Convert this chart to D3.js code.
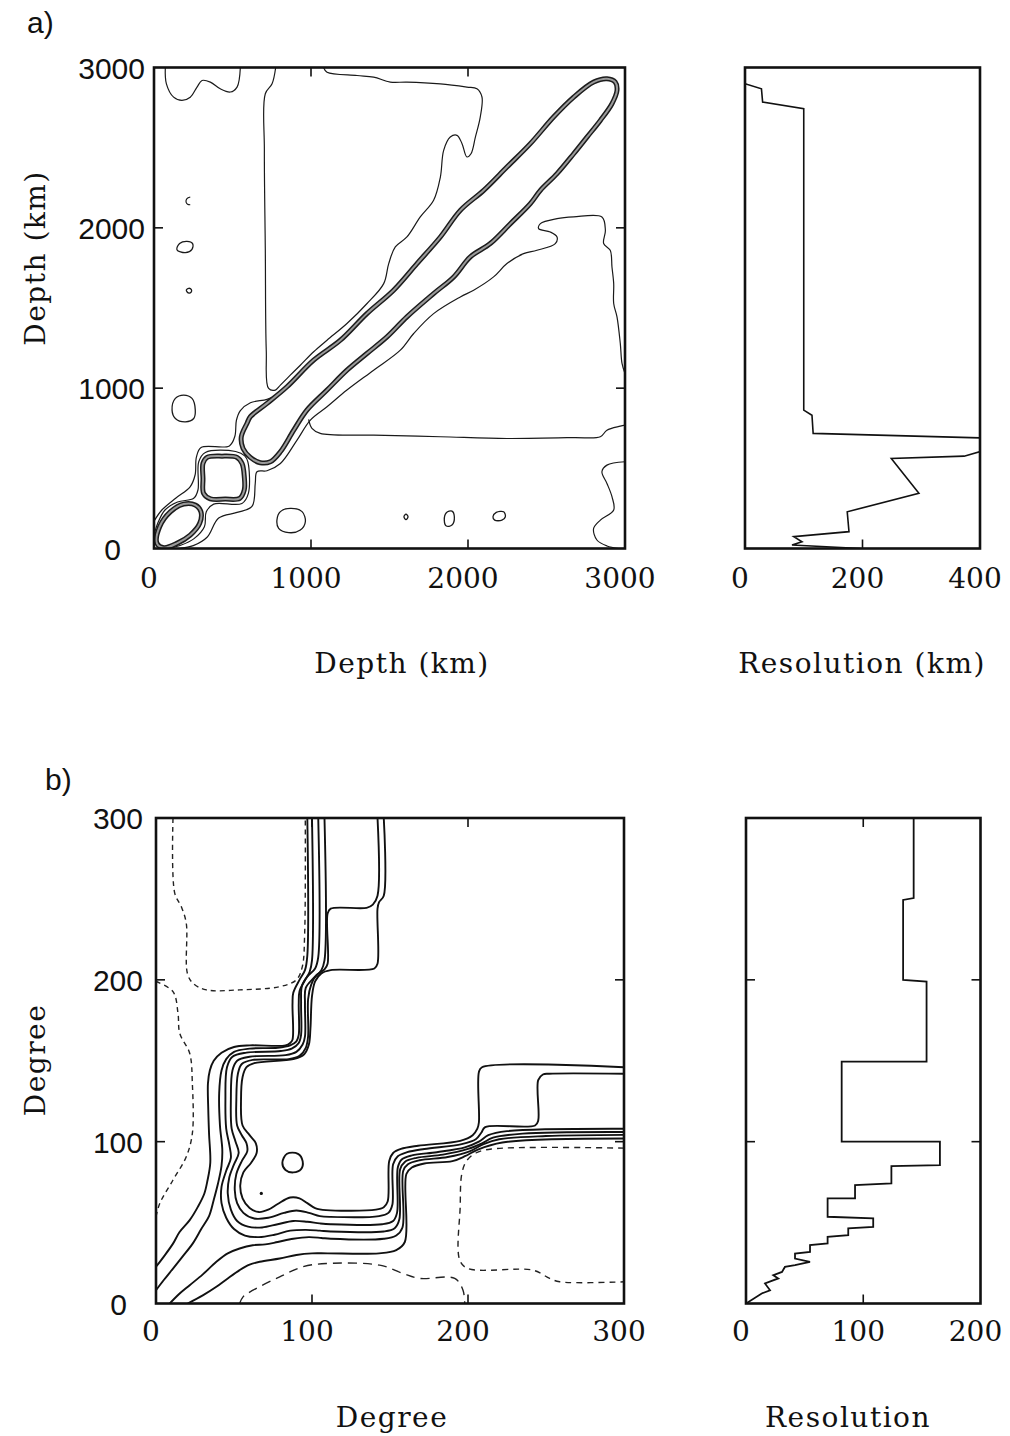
<!DOCTYPE html>
<html>
<head>
<meta charset="utf-8">
<script src="https://cdn.jsdelivr.net/npm/d3@7"></script>
<style>
  body { margin: 0; background: #fff; }
  svg { display: block; }
</style>
</head>
<body>
<svg id="fig" width="1010" height="1436"></svg>
<script>
// ---------- Panel a: depth resolution kernels (km) ----------
const depthTicks = [0, 1000, 2000, 3000];
const resKmTicks = [0, 200, 400];

// thick kernel outline along the diagonal [x km, y km]
const aBand = [[592,780],[614,822],[720,905],[847,1009],[1017,1175],[1187,1299],[1356,1465],[1526,1611],[1675,1777],[1824,1943],[1951,2109],[2100,2234],[2248,2379],[2397,2525],[2545,2691],[2673,2815],[2800,2909],[2885,2930],[2938,2909],[2949,2857],[2917,2774],[2843,2670],[2758,2566],[2673,2462],[2567,2338],[2461,2234],[2397,2151],[2270,2026],[2142,1902],[2015,1819],[1909,1694],[1781,1590],[1611,1445],[1484,1320],[1356,1216],[1229,1112],[1102,988],[974,863],[890,738],[805,603],[741,541],[677,535],[614,568],[567,624],[556,697]];
const aSquareUpper = [[338,568],[433,576],[529,568],[561,530],[575,448],[575,365],[546,313],[454,308],[359,310],[316,344],[312,437],[312,531]];
const aSquareLower = [[19,32],[36,136],[104,229],[189,277],[263,271],[299,229],[291,157],[231,84],[146,32],[62,5]];

// thin contour lines (open, end on the frame)
const aTopLeft = [[72,3000],[79,2898],[125,2815],[178,2795],[231,2815],[274,2878],[306,2919],[359,2909],[422,2867],[486,2847],[529,2878],[550,3000]];
const aUpperWedge = [[775,3000],[752,2898],[709,2836],[703,2483],[709,1860],[715,1237],[730,998],[773,988],[805,1019],[868,1081],[932,1143],[1017,1227],[1102,1299],[1229,1403],[1357,1528],[1463,1652],[1495,1777],[1537,1881],[1611,1943],[1696,2068],[1781,2172],[1824,2317],[1845,2483],[1887,2566],[1930,2577],[1962,2525],[1993,2442],[2019,2462],[2047,2566],[2078,2691],[2089,2816],[2057,2868],[1993,2878],[1824,2898],[1611,2909],[1505,2909],[1399,2940],[1293,2950],[1102,2971],[1080,3000]];
const aLowerWedge = [[160,0],[250,18],[338,70],[412,190],[529,225],[624,262],[645,406],[656,479],[720,485],[805,530],[911,676],[996,801],[1102,884],[1229,988],[1399,1112],[1569,1237],[1654,1341],[1781,1465],[1951,1569],[2036,1611],[2163,1694],[2248,1777],[2354,1839],[2439,1860],[2556,1902],[2567,1943],[2524,1974],[2450,1995],[2461,2026],[2567,2057],[2673,2068],[2853,2068],[2875,1985],[2864,1902],[2906,1860],[2917,1756],[2928,1652],[2928,1528],[2949,1445],[2970,1279],[2981,1154],[3000,1091]];
const aShelf = [[985,805],[1006,749],[1059,718],[1399,707],[1824,697],[2248,686],[2673,692],[2843,697],[2885,738],[2970,763],[3000,770]];
const aAroundSquares = [[0,84],[25,160],[70,240],[150,290],[253,313],[280,365],[285,541],[327,599],[520,605],[578,578],[598,540],[601,344],[560,281],[380,277],[333,229],[321,136],[253,60],[170,20],[90,0]];
const aOuterUpper = [[0,170],[50,240],[140,315],[230,385],[262,460],[270,570],[300,630],[480,640],[515,700],[525,800],[550,860],[614,909],[720,930],[783,957],[826,983]];
const aCornerRight = [[3000,541],[2885,520],[2853,479],[2885,406],[2917,323],[2928,240],[2843,177],[2800,125],[2821,53],[2885,16],[2960,0]];
const aArc = [[231,2192],[210,2182],[204,2161],[214,2147],[231,2144]];
// small closed islands
const aIslands = [
  [[146,1864],[163,1902],[210,1916],[246,1902],[242,1866],[200,1845]],
  [[206,1611],[221,1623],[238,1615],[236,1598],[219,1594]],
  [[115,863],[136,936],[189,957],[242,936],[263,863],[253,811],[200,790],[136,811]],
  [[783,178],[805,230],[868,250],[943,230],[964,167],[932,115],[858,99],[794,126]],
  [[1592,198],[1605,215],[1618,198],[1605,180]],
  [[1849,177],[1862,223],[1898,233],[1913,198],[1898,146],[1862,140]],
  [[2159,198],[2180,225],[2227,229],[2238,198],[2216,177],[2170,177]]
];

// resolution length vs depth (km); values past 400 run off the frame
const resA_depth = [2899, 2867, 2784, 2743, 863, 831, 718, 684, 668, 576, 562, 344, 229, 105, 74, 42, 22, 0];
const resA_km    = [0,    28,   30,   100,  100, 114, 116, 460, 460, 373, 249, 296, 174, 177, 83, 97, 80, 197];

// ---------- Panel b: spherical-harmonic degree kernels ----------
const degTicks = [0, 100, 200, 300];
const resDegTicks = [0, 100, 200];

const bSolid = [
  // innermost stepped contour
  [[146,300],[146,252],[143,248],[142,244],[142,210],[140,207],[112,206],[106,204],[102,199],[100,190],[99,170],[98,160],[95,154],[88,151],[63,148.5],[58,146],[55.5,140],[54.5,126],[55.5,110],[60,104],[64,99],[64.5,93],[61,87],[56,81],[54,73],[55.5,65],[60,59],[66,56.5],[72,58],[78,61.5],[86,65.5],[92,65],[97,62],[102,59],[109,57.7],[141,58],[146,59.5],[148.5,63],[149.5,88],[152,93],[157,95.5],[168,97.5],[195,100.5],[203,104],[206,108],[207,112],[207,143],[209,146],[300,146]],
  [[142,300],[142,252],[139,246.5],[135,244.5],[112,244],[110,241],[110,210],[108,206.5],[103,203],[99.5,197],[97.5,188],[97.5,165],[96,158],[92,153],[85,151],[62,150.5],[55,148],[52.5,142],[51.5,126],[52,110],[55,104],[58,99],[58.5,94],[55,88],[51.5,80],[50.5,70],[52,62],[56,56],[63,52.5],[72,53],[82,56],[90,57.5],[98,56],[105,54],[112,53.5],[143,54],[149,56],[151.5,61],[152,86],[155,91],[161,93.5],[172,95.5],[196,98.5],[205,101.5],[208.5,105.5],[211,109],[243,110],[245,113],[245,138],[248,141.5],[252,142],[300,142]],
  [[108,300],[108,212],[106,206],[101,201],[96,195],[95.5,185],[95.5,165],[94,160],[90,155.5],[83,153.5],[60,152.5],[52,150],[49,144],[48,126],[48.5,108],[51,100],[53,93],[50,86],[47,78],[46,68],[48,58],[52,51],[59,47.5],[68,47],[78,49],[88,51],[97,50.5],[105,49.5],[112,49],[145,49],[152,51],[154.5,56],[155,84],[157.5,89],[164,91.5],[180,93.5],[198,96.5],[207,100],[213,104],[225,106.5],[300,108]],
  [[104,300],[104,214],[102,207],[97,202],[93.5,196],[93,185],[93,166],[91.5,161],[87,157.5],[80,156],[58,155],[49,152.5],[45.5,146],[44.5,126],[45,108],[47,98],[48,90],[45,82],[42,72],[42,62],[45,53],[50,46],[57,42],[66,41],[76,42.5],[86,45],[96,45.5],[105,45],[112,44.5],[146,44.5],[153,46.5],[156,52],[156.5,83],[159.5,87.5],[167,90],[184,92],[200,95.5],[209,99],[216,102.5],[235,105],[300,106]],
  // outer contours cut by the left / bottom edges
  [[100,300],[100,212],[98.5,205],[95,199],[92,193],[91.5,185],[91.5,166],[90,162],[86,159.5],[78,158],[60,157.5],[50,155.5],[45,151],[42,144],[40.5,130],[41,110],[42.5,95],[42,85],[39.7,74],[37,64],[34,54],[29,46],[23.5,37],[17,29],[10.9,21.6],[5,14.5],[0,8.2]],
  [[97,300],[97,215],[95.5,206],[92,200],[88,192],[87.5,185],[87.5,163],[86,161],[83,159.5],[60,159.5],[50,158.5],[42,155],[37,150],[34.5,144],[33.3,136],[33.5,120],[34,105],[34.8,87],[33,76],[31,68],[27,60],[21.6,51.5],[15,44],[10.9,37],[5,29],[0,22.7]],
  [[8.8,0],[15,6],[21.6,11.3],[30,18],[38.7,25.8],[46,31],[53.6,34],[62,36],[70,36.5],[78,38],[88,40],[98,41],[106,40.5],[112,40],[146,40],[154,42],[158,47],[158.5,82],[161.5,86],[169,88.5],[187,90.5],[201,94],[210,98.5],[220,101.5],[250,103.5],[300,104.2]],
  [[20.3,0],[30,5],[38.7,10.3],[46,15.5],[53.6,20.6],[60,24],[66.5,25.8],[79.3,27.8],[90,30],[100,31],[110,31],[143,31],[154,33],[159.5,38],[160.5,80],[164,84],[172,86.5],[190,88],[198,91],[206,95],[222,99.5],[300,102]]
];
const bDashed = [
  [[10.9,300],[12,253.6],[16.2,245.3],[19.4,235],[20.1,204.1],[23.7,197.9],[32.3,193.8],[53.6,193.8],[79.3,195.8],[90,200],[93.8,208.2],[95.3,228.8],[95.7,300]],
  [[0,199],[10.9,192.7],[14.1,179.3],[15.2,167],[21.6,154.6],[23.3,136],[23.3,105.1],[19.4,90.7],[10.9,76.3],[2.4,61.8],[0,53.6]],
  [[300,96],[215,95.5],[205,93],[199,88],[196,80],[195,60],[194.7,26.8],[200,21.6],[241.7,20.6],[252.4,15.5],[258.8,13.4],[300,13.4]],
  [[53.6,0],[55.8,4.1],[62.2,8.2],[79.3,16.5],[94.2,22.7],[109.2,24.7],[143.4,23.7],[158.3,18.6],[169,15.5],[191.5,15.5],[196.8,8.2],[197.9,0]]
];
const bDashStyle = ["5,4", "5,4", "6,5", "9,6"];
const bCircle = [[84,92.5],[91,92.5],[94,88],[93,83],[88,81],[83,82.5],[81,87]];
const bDot = [67.5, 68];

// resolution (degrees) vs degree
const resB_deg = [300, 250.5, 249.4, 200, 198.9, 149.4, 149.4, 100, 100, 85.5, 84.9, 74.2, 73.2, 64.9, 64.9, 53.6, 52.6, 47.4, 46.4, 42.2, 41.2, 37.1, 36.1, 31.9, 30.9, 27.8, 25.7, 23.7, 22.6, 19.5, 17.5, 15.5, 12.4, 8.2, 6.2, 0];
const resB_val = [143, 143, 134, 134, 154, 154, 81.6, 81.6, 165.4, 165.4, 124, 124, 93, 93, 69.6, 69.6, 108.5, 108.5, 87.2, 87.2, 69.6, 69.6, 54.6, 54.6, 41.8, 41.8, 54.6, 41.8, 33.2, 30.7, 23.3, 27.5, 16.2, 20.5, 13.4, 0];

// ---------- layout ----------
const svg = d3.select("#fig");
const SANS = "'Liberation Sans', Arial, Helvetica, sans-serif";
const SERIF = "'DejaVu Serif', 'Liberation Serif', serif";

const panels = {
  aL: { x: d3.scaleLinear().domain([0, 3000]).range([154, 625]),  y: d3.scaleLinear().domain([0, 3000]).range([548.5, 67.5]) },
  aR: { x: d3.scaleLinear().domain([0, 400]).range([745, 980]),    y: d3.scaleLinear().domain([0, 3000]).range([548.5, 67.5]) },
  bL: { x: d3.scaleLinear().domain([0, 300]).range([156, 624]),    y: d3.scaleLinear().domain([0, 300]).range([1303.5, 818]) },
  bR: { x: d3.scaleLinear().domain([0, 200]).range([746, 980.5]),  y: d3.scaleLinear().domain([0, 300]).range([1303.5, 818]) }
};

const defs = svg.append("defs");
Object.entries(panels).forEach(([k, p]) => {
  const [x0, x1] = p.x.range(), [y0, y1] = p.y.range();
  defs.append("clipPath").attr("id", "clip-" + k)
    .append("rect").attr("x", x0).attr("y", y1).attr("width", x1 - x0).attr("height", y0 - y1);
});

function plotArea(k) {
  return svg.append("g").attr("clip-path", `url(#clip-${k})`);
}
function smooth(p, closed) {
  return d3.line().x(d => p.x(d[0])).y(d => p.y(d[1]))
    .curve(closed ? d3.curveCatmullRomClosed.alpha(0.5) : d3.curveCatmullRom.alpha(0.5));
}

// frame + inward ticks
function frame(k, xt, yt, sides) {
  const p = panels[k];
  const [x0, x1] = p.x.range(), [y0, y1] = p.y.range();
  const g = svg.append("g");
  const L = 9;
  xt.forEach(v => {
    if (sides.includes("b")) g.append("line").attr("x1", p.x(v)).attr("x2", p.x(v)).attr("y1", y0).attr("y2", y0 - L);
    if (sides.includes("t")) g.append("line").attr("x1", p.x(v)).attr("x2", p.x(v)).attr("y1", y1).attr("y2", y1 + L);
  });
  yt.forEach(v => {
    if (sides.includes("l")) g.append("line").attr("x1", x0).attr("x2", x0 + L).attr("y1", p.y(v)).attr("y2", p.y(v));
    if (sides.includes("r")) g.append("line").attr("x1", x1).attr("x2", x1 - L).attr("y1", p.y(v)).attr("y2", p.y(v));
  });
  g.selectAll("line").attr("stroke", "#111").attr("stroke-width", 1.6);
  g.append("rect").attr("x", x0).attr("y", y1).attr("width", x1 - x0).attr("height", y0 - y1)
    .attr("fill", "none").attr("stroke", "#111").attr("stroke-width", 2.6);
}

function xLabels(k, ticks, baseline) {
  const p = panels[k];
  svg.append("g").selectAll("text").data(ticks).join("text")
    .attr("x", d => p.x(d) - 5).attr("y", baseline)
    .attr("text-anchor", "middle").attr("font-family", SERIF).attr("font-size", 28)
    .attr("fill", "#111").text(d => d);
}
function yLabels(k, ticks, right, zeroRight) {
  const p = panels[k];
  svg.append("g").selectAll("text").data(ticks).join("text")
    .attr("x", d => d === 0 ? zeroRight : right).attr("y", d => p.y(d) + 11)
    .attr("text-anchor", "end").attr("font-family", SANS).attr("font-size", 30)
    .attr("fill", "#111").text(d => d);
}
function title(txt, x, y, rotate) {
  const t = svg.append("text").attr("text-anchor", "middle").attr("font-family", SERIF)
    .attr("font-size", 28).attr("letter-spacing", 1.5).attr("fill", "#111").text(txt);
  if (rotate) t.attr("transform", `translate(${x},${y}) rotate(-90)`);
  else t.attr("x", x).attr("y", y);
}

// ---------- draw panel a, left ----------
{
  const p = panels.aL, g = plotArea("aL");
  const thin = [aTopLeft, aUpperWedge, aLowerWedge, aShelf, aAroundSquares, aOuterUpper, aCornerRight, aArc];
  g.selectAll("path.thin").data(thin).join("path").attr("class", "thin")
    .attr("d", d => smooth(p, false)(d)).attr("fill", "none").attr("stroke", "#1a1a1a").attr("stroke-width", 1.2);
  g.selectAll("path.isl").data(aIslands).join("path").attr("class", "isl")
    .attr("d", d => smooth(p, true)(d)).attr("fill", "none").attr("stroke", "#1a1a1a").attr("stroke-width", 1.3);
  const thick = [aBand, aSquareUpper, aSquareLower];
  g.selectAll("path.thickO").data(thick).join("path").attr("class", "thickO")
    .attr("d", d => smooth(p, true)(d)).attr("fill", "none").attr("stroke", "#1c1c1c").attr("stroke-width", 5);
  g.selectAll("path.thickI").data(thick).join("path").attr("class", "thickI")
    .attr("d", d => smooth(p, true)(d)).attr("fill", "none").attr("stroke", "#9a9a9a").attr("stroke-width", 2);
  frame("aL", [1000, 2000], [1000, 2000], "tblr");
  xLabels("aL", depthTicks, 588);
  yLabels("aL", depthTicks, 145, 121);
}

// ---------- draw panel a, right ----------
{
  const p = panels.aR, g = plotArea("aR");
  const pts = resA_depth.map((d, i) => [resA_km[i], d]);
  g.append("path").attr("d", d3.line().x(d => p.x(d[0])).y(d => p.y(d[1]))(pts))
    .attr("fill", "none").attr("stroke", "#111").attr("stroke-width", 1.6);
  frame("aR", [200], [], "b");
  xLabels("aR", resKmTicks, 588);
}

// ---------- draw panel b, left ----------
{
  const p = panels.bL, g = plotArea("bL");
  g.selectAll("path.dash").data(bDashed).join("path").attr("class", "dash")
    .attr("d", d => smooth(p, false)(d)).attr("fill", "none").attr("stroke", "#222")
    .attr("stroke-width", 1.4).attr("stroke-dasharray", (d, i) => bDashStyle[i]);
  g.selectAll("path.solid").data(bSolid).join("path").attr("class", "solid")
    .attr("d", d => smooth(p, false)(d)).attr("fill", "none").attr("stroke", "#111").attr("stroke-width", 1.9);
  g.append("path").attr("d", smooth(p, true)(bCircle)).attr("fill", "none").attr("stroke", "#111").attr("stroke-width", 1.9);
  g.append("circle").attr("cx", p.x(bDot[0])).attr("cy", p.y(bDot[1])).attr("r", 1.6).attr("fill", "#111");
  frame("bL", [100, 200], [100, 200], "tblr");
  xLabels("bL", degTicks, 1341);
  yLabels("bL", degTicks, 143, 127);
}

// ---------- draw panel b, right ----------
{
  const p = panels.bR, g = plotArea("bR");
  const pts = resB_deg.map((d, i) => [resB_val[i], d]);
  g.append("path").attr("d", d3.line().x(d => p.x(d[0])).y(d => p.y(d[1]))(pts))
    .attr("fill", "none").attr("stroke", "#111").attr("stroke-width", 1.8);
  frame("bR", [100], [100, 200], "tblr");
  xLabels("bR", resDegTicks, 1341);
}

// ---------- titles and panel letters ----------
title("Depth (km)", 402, 673);
title("Resolution (km)", 862, 673);
title("Depth (km)", 45, 258, true);
title("Degree", 392, 1427);
title("Resolution", 848, 1427);
title("Degree", 45, 1060, true);

svg.append("text").attr("x", 27).attr("y", 33).attr("font-family", SANS).attr("font-size", 30).attr("fill", "#111").text("a)");
svg.append("text").attr("x", 45).attr("y", 790).attr("font-family", SANS).attr("font-size", 30).attr("fill", "#111").text("b)");
</script>
</body>
</html>
